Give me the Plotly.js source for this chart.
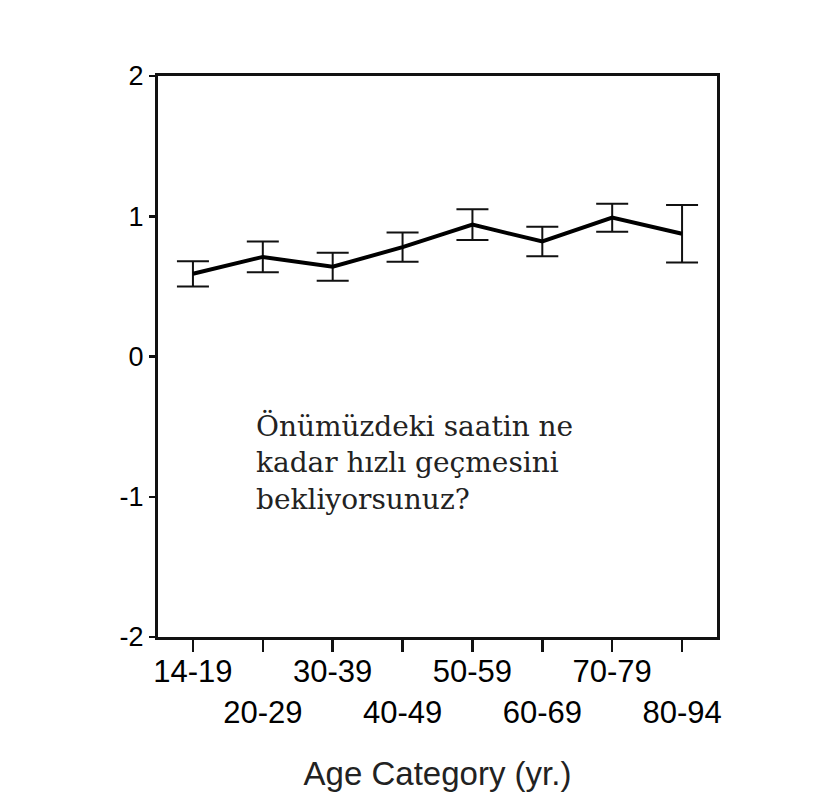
<!DOCTYPE html>
<html>
<head>
<meta charset="utf-8">
<script src="https://cdn.plot.ly/plotly-3.0.1.min.js"></script>
<style>html,body{margin:0;padding:0;background:#fff;}</style>
</head>
<body>
<div id="chart" style="width:825px;height:800px;"></div>
<script>
const categories = ["14-19", "20-29", "30-39", "40-49", "50-59", "60-69", "70-79", "80-94"];
const means = [0.59, 0.71, 0.64, 0.78, 0.94, 0.82, 0.99, 0.875];
const errors = [0.09, 0.11, 0.10, 0.105, 0.11, 0.105, 0.10, 0.205];
const tickLabels = categories.map((c, i) => i % 2 === 0 ? c : "<br>" + c);
const yTicks = [-2, -1, 0, 1, 2];
const noteText = "Önümüzdeki saatin ne<br>kadar hızlı geçmesini<br>bekliyorsunuz?";
const xTitle = "Age Category (yr.)";

const tickFont = {family: "Liberation Sans Narrow, Liberation Sans, Arial, sans-serif", size: 31, color: "#000"};

const trace = {
  x: categories.map((c, i) => i),
  y: means,
  type: "scatter",
  mode: "lines",
  line: {color: "#000", width: 4},
  error_y: {type: "data", array: errors, visible: true, color: "#111", thickness: 2, width: 16}
};

const layout = {
  width: 825, height: 800,
  margin: {l: 158, r: 108, t: 76, b: 163},
  paper_bgcolor: "#fff", plot_bgcolor: "#fff",
  showlegend: false,
  xaxis: {
    range: [-0.5, 7.5],
    tickmode: "array",
    tickvals: categories.map((c, i) => i),
    ticktext: tickLabels,
    tickangle: 0,
    ticks: "outside", ticklen: 12, tickwidth: 2.5, tickcolor: "#111",
    ticklabelstandoff: -7,
    showline: true, linecolor: "#111", linewidth: 3, mirror: true,
    showgrid: false, zeroline: false,
    tickfont: tickFont,
    automargin: false,
    title: {text: xTitle, font: {family: "Liberation Sans, Arial, sans-serif", size: 33, color: "#222"}, standoff: 34}
  },
  yaxis: {
    range: [-2, 2],
    tickmode: "array",
    tickvals: yTicks,
    ticktext: yTicks.map(String),
    ticks: "outside", ticklen: 6, tickwidth: 2.5, tickcolor: "#111",
    showline: true, linecolor: "#111", linewidth: 3, mirror: true,
    showgrid: false, zeroline: false,
    tickfont: {family: "Liberation Sans, Arial, sans-serif", size: 27, color: "#000"},
    automargin: false
  },
  annotations: [{
    xref: "paper", yref: "paper",
    x: 0.172, y: 0.41,
    xanchor: "left", yanchor: "top", align: "left",
    showarrow: false,
    text: noteText,
    font: {family: "DejaVu Serif, serif", size: 28, color: "#222"}
  }]
};

Plotly.newPlot("chart", [trace], layout, {displayModeBar: false, staticPlot: true});
</script>
</body>
</html>
